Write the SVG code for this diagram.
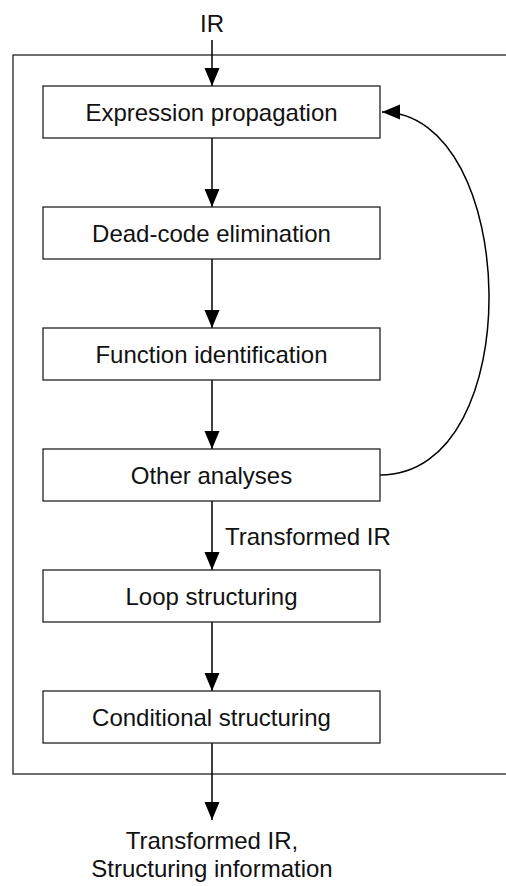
<svg xmlns="http://www.w3.org/2000/svg" width="506" height="886" viewBox="0 0 506 886">
  <style>
    .box { fill: #fff; stroke: #222; stroke-width: 1.3; }
    .frame { fill: none; stroke: #222; stroke-width: 1.3; }
    .edge { fill: none; stroke: #000; stroke-width: 1.5; marker-end: url(#head); }
    text { font-family: "Liberation Sans", Arial, sans-serif; font-size: 24px; fill: #111; }
    .c { text-anchor: middle; }
  </style>
  <defs>
    <marker id="head" markerUnits="userSpaceOnUse" markerWidth="19" markerHeight="16" refX="18" refY="7.5" orient="auto">
      <path d="M0,0 L18,7.5 L0,15 z" fill="#000"/>
    </marker>
  </defs>

  <!-- enclosing frame (right side runs off the canvas) -->
  <rect class="frame" x="13" y="55" width="520" height="719"/>

  <g id="connectors">
    <path class="edge" d="M212,40 V86"/>
    <path class="edge" d="M212,138 V207"/>
    <path class="edge" d="M212,259 V328"/>
    <path class="edge" d="M212,380 V449"/>
    <path class="edge" d="M212,501 V570"/>
    <path class="edge" d="M212,622 V691"/>
    <path class="edge" d="M212,743 V820"/>
    <path class="edge" d="M380,475 C530,475 520,112 382,112"/>
  </g>

  <g id="input"><text class="c" x="212" y="32">IR</text></g>

  <g id="expr-prop">
    <rect class="box" x="43" y="86" width="337" height="52"/>
    <text class="c" x="211.5" y="121">Expression propagation</text>
  </g>
  <g id="dead-code">
    <rect class="box" x="43" y="207" width="337" height="52"/>
    <text class="c" x="211.5" y="242">Dead-code elimination</text>
  </g>
  <g id="func-ident">
    <rect class="box" x="43" y="328" width="337" height="52"/>
    <text class="c" x="211.5" y="363">Function identification</text>
  </g>
  <g id="other">
    <rect class="box" x="43" y="449" width="337" height="52"/>
    <text class="c" x="211.5" y="484">Other analyses</text>
  </g>
  <g id="transformed-label"><text x="225" y="545">Transformed IR</text></g>
  <g id="loop">
    <rect class="box" x="43" y="570" width="337" height="52"/>
    <text class="c" x="211.5" y="605">Loop structuring</text>
  </g>
  <g id="cond">
    <rect class="box" x="43" y="691" width="337" height="52"/>
    <text class="c" x="211.5" y="726">Conditional structuring</text>
  </g>
  <g id="output">
    <text class="c" x="212" y="849">Transformed IR,</text>
    <text class="c" x="212" y="877">Structuring information</text>
  </g>
</svg>
